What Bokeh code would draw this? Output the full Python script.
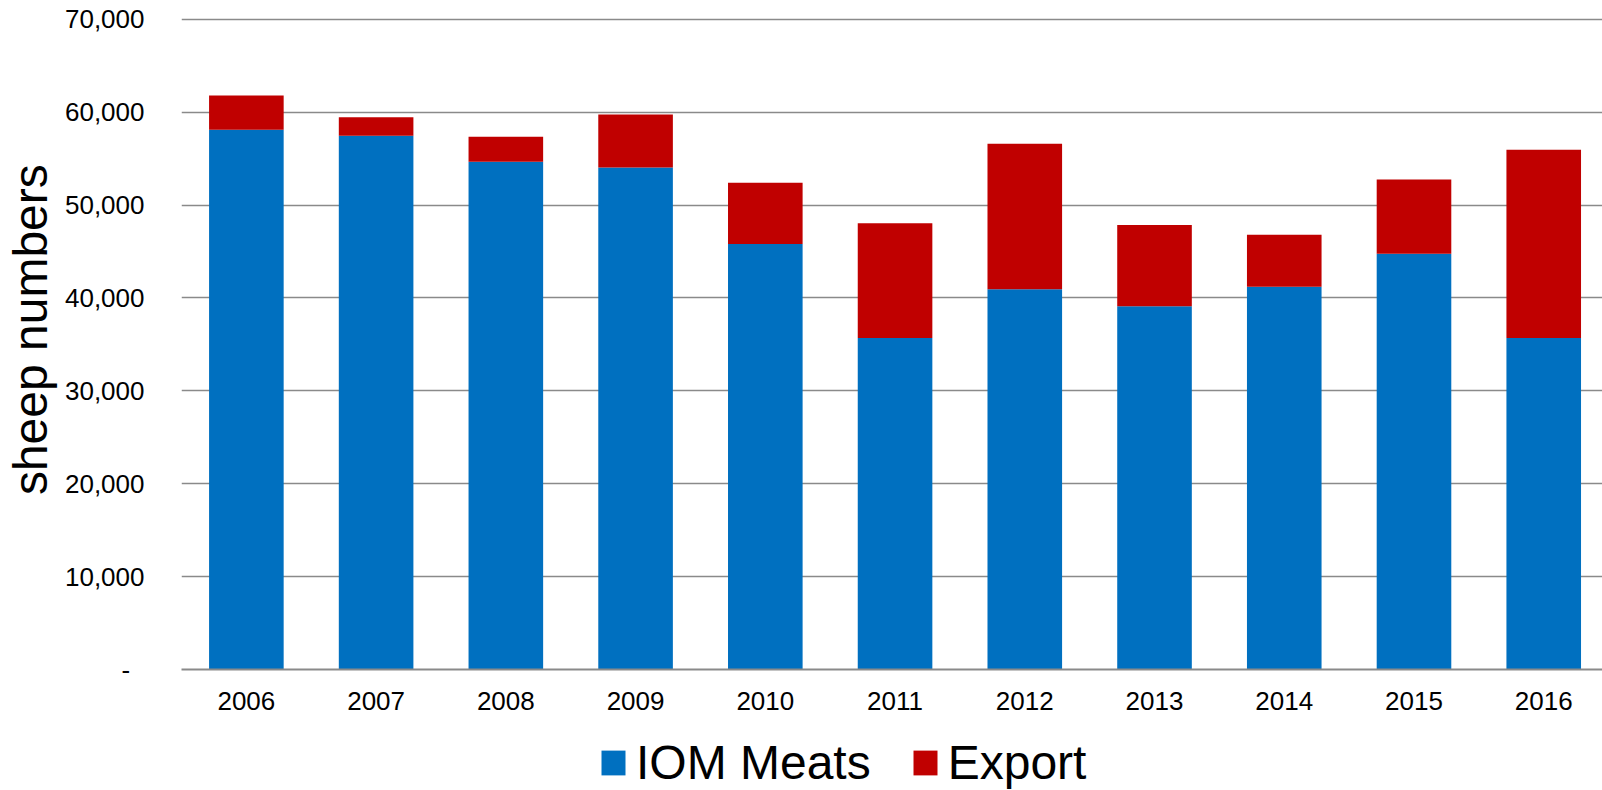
import numpy as np
from bokeh.plotting import figure
from bokeh.layouts import column
from bokeh.models import (ColumnDataSource, Range1d, FixedTicker, NumeralTickFormatter,
                          Legend, LegendItem)
from bokeh.embed import file_html
from bokeh.resources import INLINE

years = ["2006", "2007", "2008", "2009", "2010", "2011", "2012", "2013", "2014", "2015", "2016"]
iom_meats = [58100, 57450, 54650, 54050, 45800, 35700, 40950, 39100, 41200, 44750, 35700]
export = [3700, 2000, 2700, 5700, 6600, 12350, 15650, 8750, 5600, 8000, 20250]
y_ticks = [0, 10000, 20000, 30000, 40000, 50000, 60000, 70000]
series_names = ["IOM Meats", "Export"]

FONT = "Liberation Sans"
BLUE = "#0070C0"
RED = "#C00000"
GRID = "#8A8A8A"

xpos = [i + 0.5 for i in range(len(years))]
source = ColumnDataSource(dict(x=xpos, years=years, iom=iom_meats, export=export))

p = figure(width=1602, height=725, output_backend="svg", toolbar_location=None,
           x_range=Range1d(0, 10.953), y_range=Range1d(0, 70300),
           min_border_left=172, min_border_right=0, min_border_top=16, min_border_bottom=56)
p.outline_line_color = None
p.background_fill_color = "white"
p.border_fill_color = "white"

rs = p.vbar_stack(["iom", "export"], x="x", width=0.575, source=source,
                  color=[BLUE, RED], line_color=None)

# x axis
p.xaxis.ticker = FixedTicker(ticks=xpos)
p.xaxis.major_label_overrides = {x: y for x, y in zip(xpos, years)}
p.xaxis.major_tick_line_color = None
p.xaxis.minor_tick_line_color = None
p.xaxis.axis_line_color = GRID
p.xaxis.axis_line_width = 2
p.xaxis.major_label_standoff = 16
p.xaxis.major_label_text_font = FONT
p.xaxis.major_label_text_font_size = "26px"
p.xaxis.major_label_text_color = "black"
p.xgrid.grid_line_color = None

# y axis
p.yaxis.ticker = FixedTicker(ticks=y_ticks)
p.yaxis.formatter = NumeralTickFormatter(format="0,0")
p.yaxis.major_label_overrides = {0: "-\u00a0\u00a0"}
p.yaxis.major_tick_line_color = None
p.yaxis.minor_tick_line_color = None
p.yaxis.axis_line_color = None
p.yaxis.major_label_standoff = 31
p.yaxis.major_label_text_font = FONT
p.yaxis.major_label_text_font_size = "26px"
p.yaxis.major_label_text_color = "black"
p.yaxis.axis_label = "\u00a0\u00a0sheep numbers"
p.yaxis.axis_label_text_font = FONT
p.yaxis.axis_label_text_font_size = "48px"
p.yaxis.axis_label_text_font_style = "normal"
p.yaxis.axis_label_text_color = "black"
p.yaxis.axis_label_standoff = 5
p.ygrid.grid_line_color = GRID
p.ygrid.grid_line_width = 1.6

# legend strip below the chart (bars drawn out of view, only the legend shows)
lg = figure(width=1602, height=65, output_backend="svg", toolbar_location=None,
            x_range=Range1d(-100, -99), y_range=Range1d(0, 1),
            min_border=0, min_border_left=0, min_border_right=0,
            min_border_top=0, min_border_bottom=0)
lg.axis.visible = False
lg.grid.visible = False
lg.outline_line_color = None
lrs = lg.vbar_stack(["iom", "export"], x="x", width=0.575, source=source,
                    color=[BLUE, RED], line_color=None)
legend = Legend(items=[LegendItem(label=n, renderers=[r]) for n, r in zip(series_names, lrs)],
                orientation="horizontal", location=(417, 0),
                label_text_font=FONT, label_text_font_size="48px", label_text_color="black",
                glyph_width=30, glyph_height=31, label_standoff=8, spacing=39,
                border_line_color=None, background_fill_alpha=0,
                padding=0, margin=0)
lg.add_layout(legend, "center")

layout = column(p, lg, spacing=0)
open("out.html", "w").write(file_html(layout, INLINE))
